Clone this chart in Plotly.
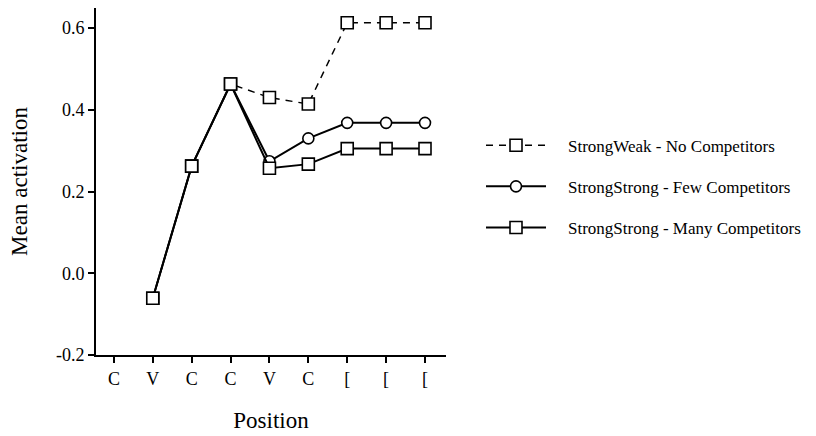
import plotly.graph_objects as go

positions = ["C", "V", "C", "C", "V", "C", "[", "[", "["]
x_idx = [1, 2, 3, 4, 5, 6, 7, 8]
strongweak_none = [-0.061, 0.262, 0.463, 0.430, 0.414, 0.613, 0.613, 0.613]
strongstrong_few = [-0.061, 0.262, 0.463, 0.274, 0.330, 0.368, 0.368, 0.368]
strongstrong_many = [-0.061, 0.262, 0.463, 0.257, 0.267, 0.305, 0.305, 0.305]
y_ticks = [-0.2, 0.0, 0.2, 0.4, 0.6]
y_ticklabels = ["-0.2", "0.0", "0.2", "0.4", "0.6"]

font_fam = "Liberation Serif, Times New Roman, serif"
fig = go.Figure()
series = [
    ("StrongWeak - No Competitors", strongweak_none, "dash", "square"),
    ("StrongStrong - Few Competitors", strongstrong_few, "solid", "circle"),
    ("StrongStrong - Many Competitors", strongstrong_many, "solid", "square"),
]
for i, (name, ys, dash, sym) in enumerate(series):
    fig.add_trace(go.Scatter(
        x=x_idx, y=ys, name="\u00a0\u00a0\u00a0\u00a0" + name, mode="lines+markers",
        legendgroup="g%d" % i,
        line=dict(color="black", width=1.5 if dash == "dash" else 2,
                  dash="7px,6px" if dash == "dash" else None),
        marker=dict(symbol=sym, size=12 if sym == "square" else 11, color="white",
                    line=dict(color="black", width=1.6)),
    ))

fig.update_layout(
    width=816, height=436,
    margin=dict(l=96, r=370, t=8, b=81),
    plot_bgcolor="white", paper_bgcolor="white",
    font=dict(family=font_fam, color="black", size=17),
    legend=dict(x=1.1, y=0.655, xanchor="left", yanchor="top",
                font=dict(size=17, family=font_fam),
                itemwidth=60, traceorder="grouped", tracegroupgap=16,
                bgcolor="rgba(0,0,0,0)"),
    xaxis=dict(range=[-0.46, 8.54], tickvals=list(range(len(positions))), ticktext=positions,
               showgrid=False, zeroline=False, showline=True, linecolor="black", linewidth=2,
               ticks="outside", ticklen=6, tickwidth=1.5, tickcolor="black",
               tickfont=dict(size=18),
               title=dict(text="Position", font=dict(size=23), standoff=24)),
    yaxis=dict(range=[-0.2, 0.649], tickvals=y_ticks, ticktext=y_ticklabels,
               showgrid=False, zeroline=False, showline=True, linecolor="black", linewidth=2,
               ticks="outside", ticklen=6, tickwidth=1.5, tickcolor="black",
               tickfont=dict(size=18),
               title=dict(text="Mean activation", font=dict(size=23), standoff=22)),
)
fig.write_html("out.html")
